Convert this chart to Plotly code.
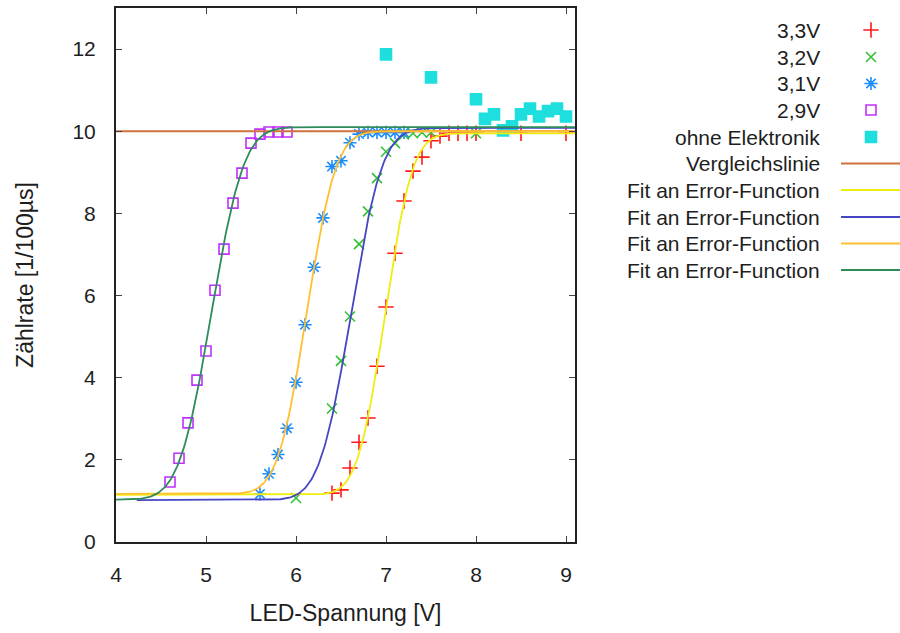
import math
import numpy as np
import plotly.graph_objects as go

# ---------------- data ----------------
x_33 = [6.4, 6.5, 6.6, 6.7, 6.8, 6.9, 7.0, 7.1, 7.2, 7.3, 7.4, 7.5, 7.6, 7.7, 7.8, 7.9, 8.0, 8.5, 9.0]
y_33 = [1.19, 1.27, 1.80, 2.43, 3.02, 4.28, 5.72, 7.03, 8.30, 9.03, 9.37, 9.77, 9.88, 9.95, 9.95, 9.95, 9.95, 9.95, 9.95]

x_32 = [6.0, 6.4, 6.5, 6.6, 6.7, 6.8, 6.9, 7.0, 7.1, 7.2, 7.3, 7.4, 7.5, 8.0]
y_32 = [1.07, 3.25, 4.41, 5.49, 7.25, 8.05, 8.86, 9.50, 9.71, 9.92, 9.95, 9.97, 9.97, 9.95]

x_31 = [5.6, 5.7, 5.8, 5.9, 6.0, 6.1, 6.2, 6.3, 6.4, 6.5, 6.6, 6.7, 6.8, 6.9, 7.0, 7.1, 7.2]
y_31 = [1.17, 1.66, 2.13, 2.77, 3.89, 5.29, 6.69, 7.89, 9.14, 9.28, 9.72, 9.93, 9.97, 9.97, 9.97, 9.97, 9.97]

x_29 = [4.6, 4.7, 4.8, 4.9, 5.0, 5.1, 5.2, 5.3, 5.4, 5.5, 5.6, 5.7, 5.8, 5.9]
y_29 = [1.46, 2.04, 2.90, 3.94, 4.65, 6.13, 7.13, 8.25, 8.98, 9.71, 9.93, 9.98, 9.98, 9.98]

x_ohne = [7.0, 7.5, 8.0, 8.1, 8.2, 8.3, 8.4, 8.5, 8.6, 8.7, 8.8, 8.9, 9.0]
y_ohne = [11.87, 11.31, 10.78, 10.30, 10.41, 10.02, 10.12, 10.41, 10.55, 10.36, 10.49, 10.55, 10.36]

# reference line level
vergleich_level = [10.0]

# fit parameters: [lower level, upper level, centre, width, x start]
fit_33 = [1.15, 9.95, 6.99, 0.34, 4.0]
fit_32 = [1.02, 10.08, 6.61, 0.39, 4.23]
fit_31 = [1.17, 10.00, 6.12, 0.36, 4.0]
fit_29 = [1.03, 10.10, 5.06, 0.40, 4.0]

x_ticks = [4, 5, 6, 7, 8, 9]
y_ticks = [0, 2, 4, 6, 8, 10, 12]

legend_names = ["3,3V", "3,2V", "3,1V", "2,9V", "ohne Elektronik", "Vergleichslinie",
                "Fit an Error-Function", "Fit an Error-Function", "Fit an Error-Function",
                "Fit an Error-Function"]

# ---------------- styles ----------------
X_MAX = 9.1
Y_RANGE = [0, 13]
FONT = "Liberation Sans, Arial, sans-serif"
TXT = "#1e1e1e"

c_red = "#ff1a1a"
c_grn = "#33c033"
c_blu = "#1a8cff"
c_pur = "#c030ff"
c_cya = "#1edede"
c_verg = "#d0703f"
c_yel = "#eeee10"
c_nav = "#4646c4"
c_ora = "#ffc030"
c_dgr = "#2e8b5a"


def erf_curve(p, n=400):
    lo, hi, c, w, x0 = p
    xs = np.linspace(x0, X_MAX, n)
    ys = [lo + (hi - lo) * 0.5 * (1.0 + math.erf((x - c) / w)) for x in xs]
    return xs, ys


fig = go.Figure()

point_series = [
    (x_33, y_33, "cross-thin-open", c_red, 11),
    (x_32, y_32, "x-thin-open", c_grn, 10),
    (x_31, y_31, "asterisk-open", c_blu, 11),
    (x_29, y_29, "square-open", c_pur, 10),
    (x_ohne, y_ohne, "square", c_cya, 11),
]
for xs, ys, sym, col, sz in point_series:
    fig.add_trace(go.Scatter(
        x=xs, y=ys, mode="markers", showlegend=False,
        marker=dict(symbol=sym, size=sz, color=col, line=dict(color=col, width=1.6)),
    ))

# Vergleichslinie
fig.add_trace(go.Scatter(
    x=[4, X_MAX], y=[vergleich_level[0]] * 2, mode="lines", showlegend=False,
    line=dict(color=c_verg, width=2),
))

fit_series = [(fit_33, c_yel), (fit_32, c_nav), (fit_31, c_ora), (fit_29, c_dgr)]
for p, col in fit_series:
    xs, ys = erf_curve(p)
    fig.add_trace(go.Scatter(x=xs, y=ys, mode="lines", showlegend=False,
                             line=dict(color=col, width=1.8)))

# ---------------- custom legend (text left, sample right) ----------------
L_LEFT, L_TOP, L_BOT, W, H = 116, 8, 542, 900, 633
paper_w = W - L_LEFT
leg_dom0 = 0.62
leg_x0 = L_LEFT + leg_dom0 * paper_w
row_y = [30, 57, 83.5, 110, 137, 163.5, 190, 217, 243.5, 270]
text_right = 822
sym_x = 871
line_x = [841, 900]

for i in range(5):
    xs, ys, sym, col, sz = point_series[i]
    fig.add_trace(go.Scatter(
        x=[sym_x], y=[row_y[i]], xaxis="x2", yaxis="y2", mode="markers", showlegend=False,
        marker=dict(symbol=sym, size=sz, color=col, line=dict(color=col, width=1.6)),
    ))
line_cols = [c_verg, c_yel, c_nav, c_ora, c_dgr]
for j, col in enumerate(line_cols):
    fig.add_trace(go.Scatter(
        x=line_x, y=[row_y[5 + j]] * 2, xaxis="x2", yaxis="y2", mode="lines",
        showlegend=False, line=dict(color=col, width=2), cliponaxis=False,
    ))

# invisible trace to activate the label-carrying overlay y axis
fig.add_trace(go.Scatter(x=[4], y=[0], yaxis="y3", mode="markers",
                         marker=dict(opacity=0), showlegend=False, hoverinfo="skip"))

annotations = []
for name, yy in zip(legend_names, row_y):
    annotations.append(dict(
        x=text_right, y=yy, xref="x2", yref="y2", text=name, showarrow=False,
        xanchor="right", yanchor="middle", font=dict(family=FONT, size=21, color=TXT),
    ))

axis_common = dict(
    showgrid=False, zeroline=False, showline=True, linecolor="#222222", linewidth=1.5,
    mirror="ticks", ticks="inside", ticklen=6, tickwidth=1.3, tickcolor="#444444",
    tickfont=dict(family=FONT, size=21, color=TXT),
)

fig.update_layout(
    width=W, height=H,
    margin=dict(l=L_LEFT, r=0, t=L_TOP, b=H - L_BOT),
    paper_bgcolor="white", plot_bgcolor="white",
    xaxis=dict(
        domain=[0, (575 - L_LEFT) / paper_w], range=[4, X_MAX],
        tickvals=x_ticks, ticktext=[str(v) for v in x_ticks],
        ticklabelstandoff=13,
        title=dict(text="LED-Spannung [V]", font=dict(family=FONT, size=23, color=TXT), standoff=20),
        **axis_common,
    ),
    yaxis=dict(
        range=Y_RANGE, tickvals=y_ticks, showticklabels=False,
        **axis_common,
    ),
    # overlay axis that only carries the tick labels (pushed away from the frame) and the title
    yaxis3=dict(
        overlaying="y", anchor="x", side="left", range=Y_RANGE, tickvals=y_ticks,
        ticktext=[str(v) for v in y_ticks], showgrid=False, zeroline=False, showline=False,
        ticks="outside", ticklen=15, tickcolor="rgba(0,0,0,0)",
        tickfont=dict(family=FONT, size=21, color=TXT),
        title=dict(text="Zählrate [1/100µs]", font=dict(family=FONT, size=23, color=TXT), standoff=32),
    ),
    xaxis2=dict(domain=[leg_dom0, 1], range=[leg_x0, W], visible=False, anchor="y2"),
    yaxis2=dict(domain=[0, 1], range=[L_BOT, L_TOP], visible=False, anchor="x2"),
    annotations=annotations,
)

fig.write_html("out.html")
